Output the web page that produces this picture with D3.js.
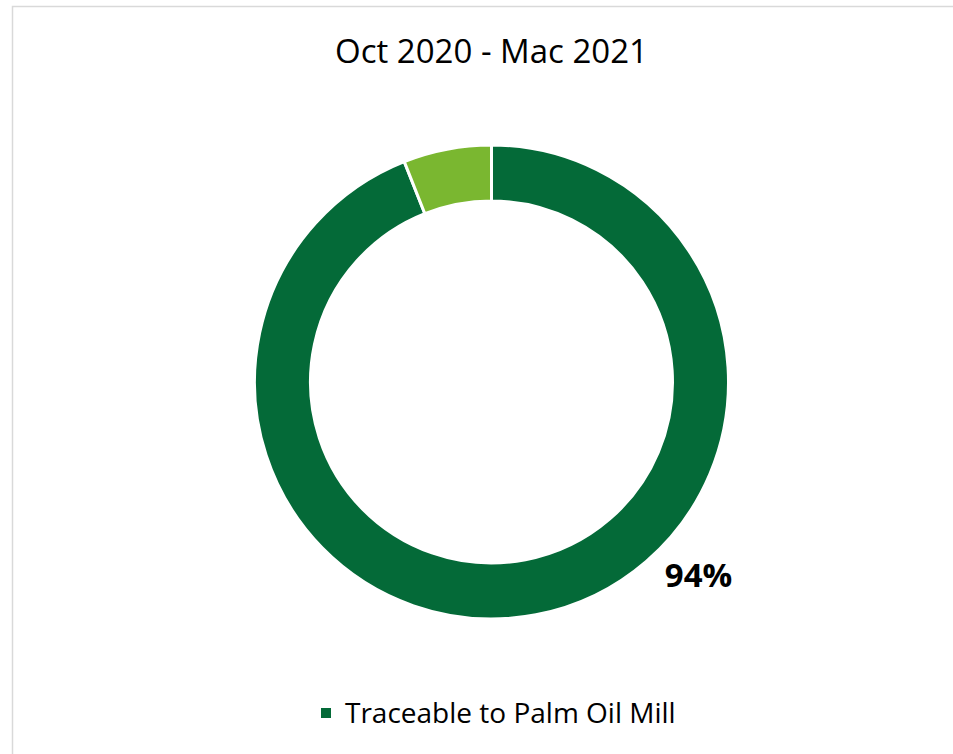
<!DOCTYPE html>
<html>
<head>
<meta charset="utf-8">
<script src="https://cdn.jsdelivr.net/npm/d3@7"></script>
<style>
  body { margin: 0; background: #fff; }
  svg { display: block; font-family: "Open Sans", "Liberation Sans", sans-serif; }
</style>
</head>
<body>
<div id="chart"></div>
<script>
// data
const categories = ['Traceable to Palm Oil Mill', 'Not traceable'];
const values = [94, 6];
const colors = ['#046a38', '#7ab730'];
const title = 'Oct 2020 - Mac 2021';
const labelText = ['94%', ''];

const width = 953, height = 754;
const cx = 491.5, cy = 382;
const outerR = 237, innerR = 181;

const svg = d3.select('#chart').append('svg')
    .attr('width', width)
    .attr('height', height);

// chart border
svg.append('rect')
    .attr('x', 12.5).attr('y', 6.5)
    .attr('width', 960).attr('height', 760)
    .attr('fill', 'none')
    .attr('stroke', '#d9d9d9')
    .attr('stroke-width', 1.5);

svg.append('text')
    .attr('x', cx).attr('y', 63)
    .attr('text-anchor', 'middle')
    .attr('font-size', 33)
    .attr('fill', '#000')
    .text(title);

const pie = d3.pie().sort(null).value(d => d);
const arc = d3.arc().innerRadius(innerR).outerRadius(outerR);

const g = svg.append('g').attr('transform', `translate(${cx},${cy})`);

g.selectAll('path')
    .data(pie(values))
    .enter().append('path')
    .attr('d', arc)
    .attr('fill', (d, i) => colors[i])
    .attr('stroke', '#fff')
    .attr('stroke-width', 3);

// data label for the big slice
svg.append('text')
    .attr('x', 698.5).attr('y', 587)
    .attr('text-anchor', 'middle')
    .attr('font-size', 33)
    .attr('font-weight', 'bold')
    .attr('fill', '#000')
    .text(labelText[0]);

// legend (only first category shown)
const legend = svg.append('g').attr('transform', 'translate(321,708)');
legend.append('rect')
    .attr('width', 10).attr('height', 10)
    .attr('fill', colors[0]);
legend.append('text')
    .attr('x', 24).attr('y', 15)
    .attr('font-size', 28)
    .attr('fill', '#000')
    .text(categories[0]);
</script>
</body>
</html>
